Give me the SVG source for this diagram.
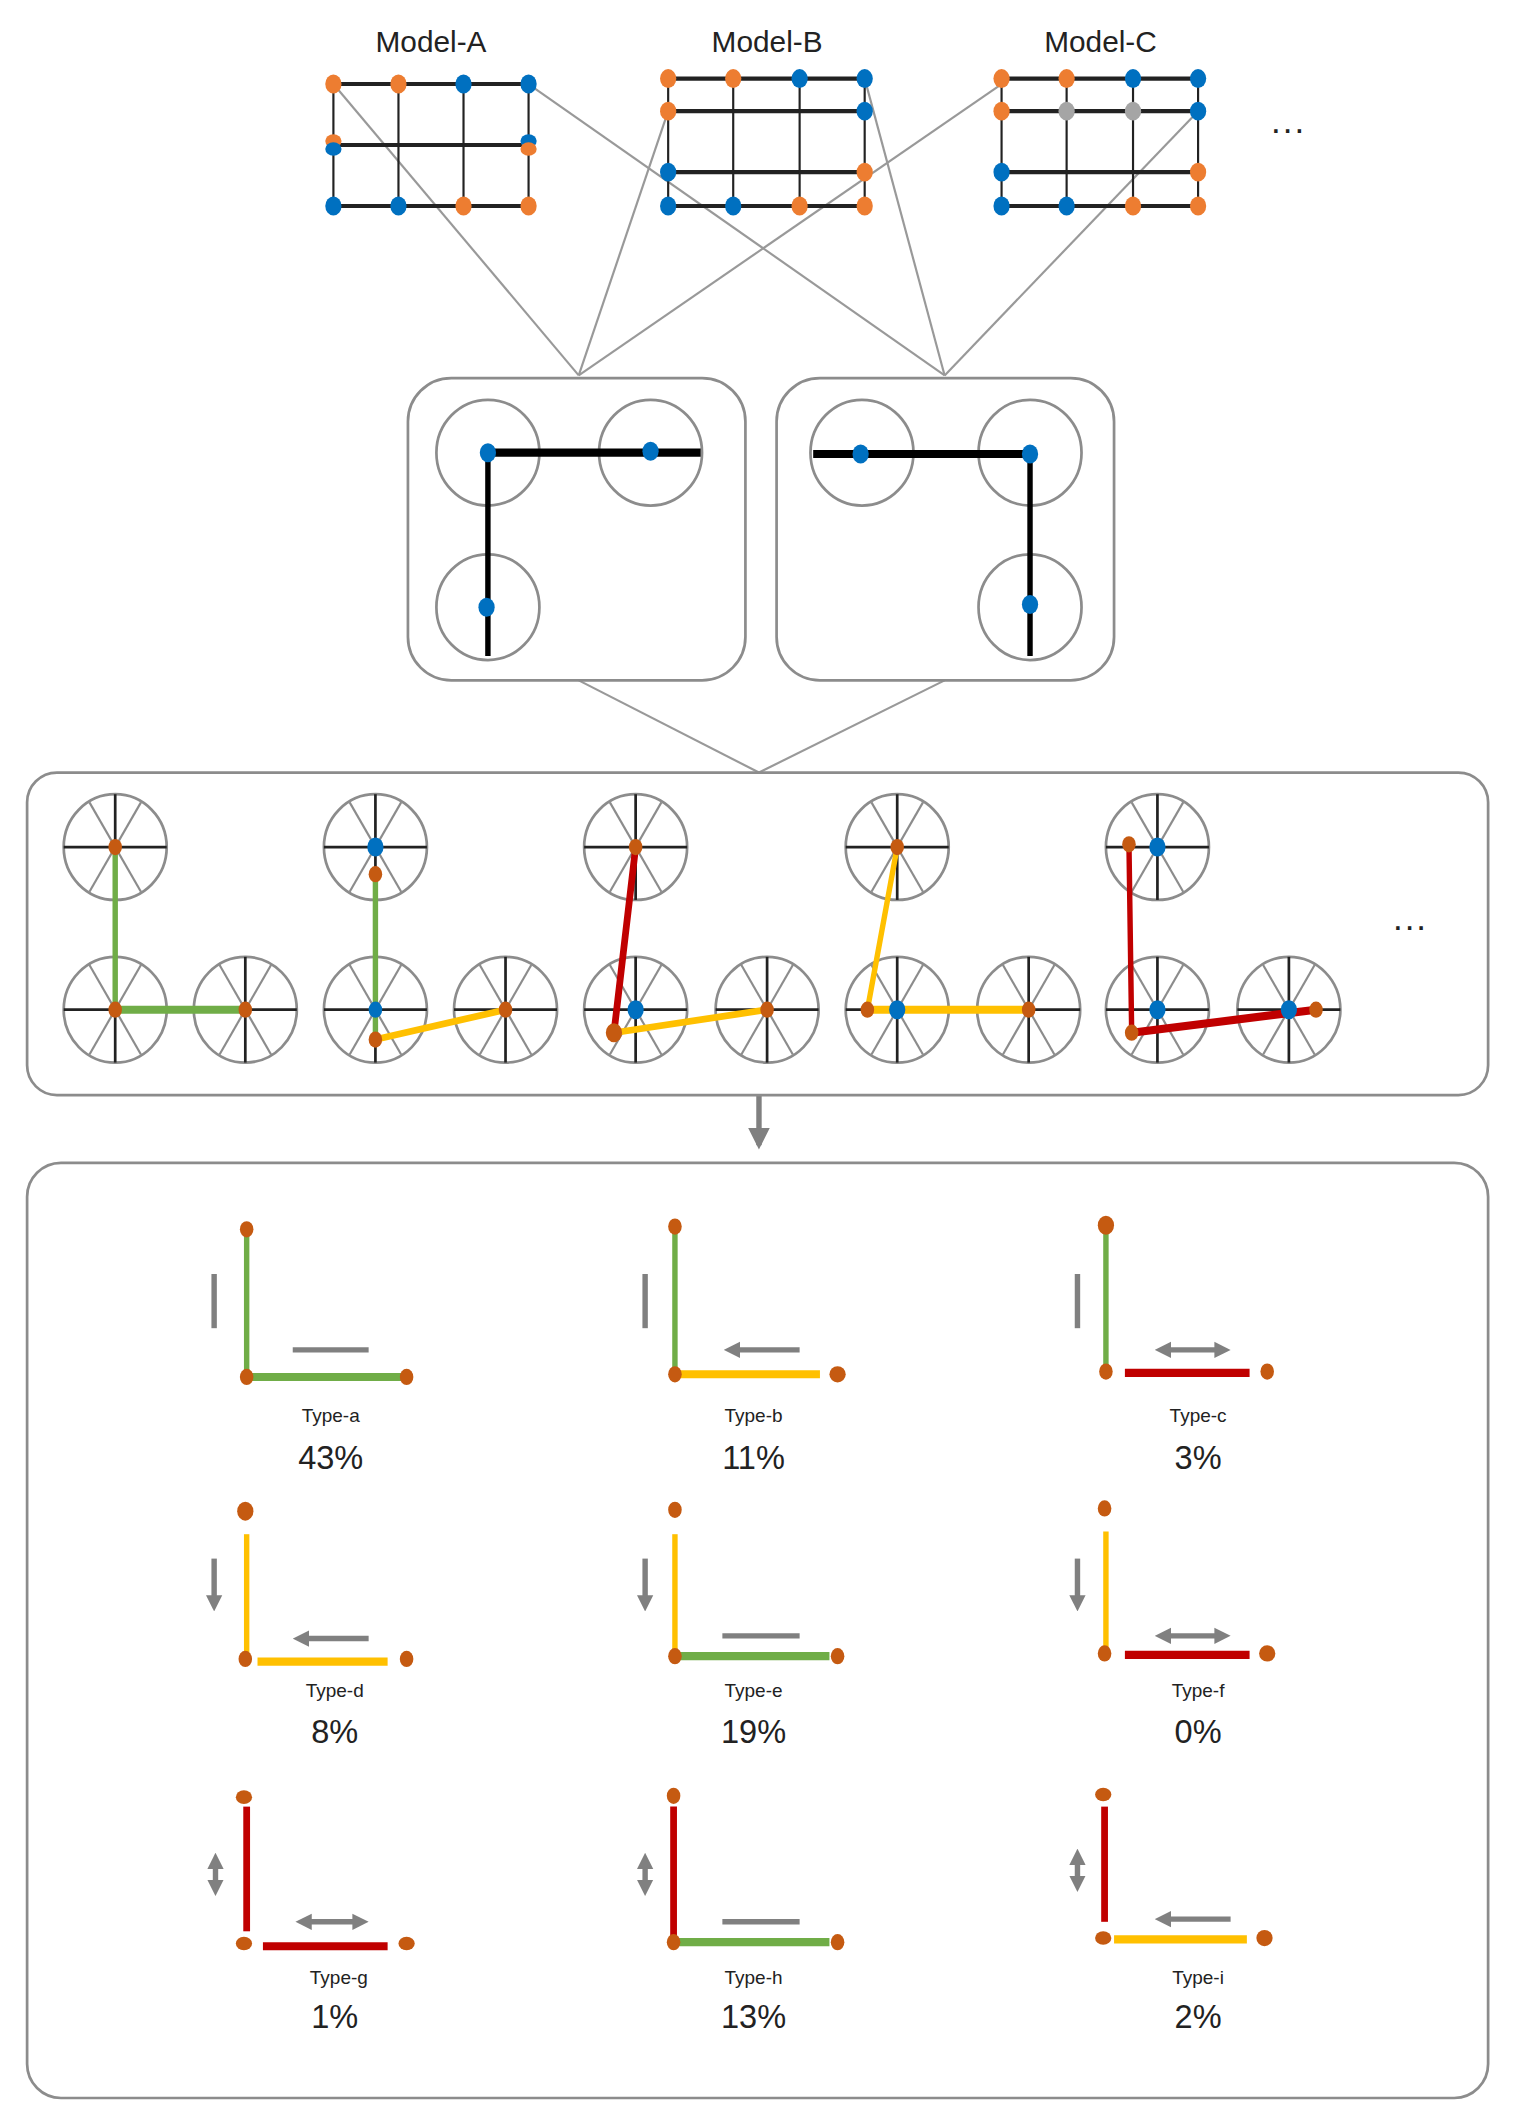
<svg xmlns="http://www.w3.org/2000/svg" width="1522" height="2128" viewBox="0 0 1522 2128">
<style>
.t{font-family:"Liberation Sans",Arial,sans-serif;fill:#222;text-anchor:middle}
.g{stroke:#222;stroke-width:3}
.gt{stroke:#222;stroke-width:1.6}
.cn{stroke:#999;stroke-width:1.6;fill:none}
.box{fill:#fff;stroke:#8c8c8c;stroke-width:2}
.ind{stroke:#808080;stroke-width:4;fill:none}
</style>
<defs>
<g id="wheel">
<ellipse cx="0" cy="0" rx="38" ry="39" fill="none" stroke="#8c8c8c" stroke-width="2"/>
<line x1="-19" y1="-33" x2="19" y2="33" stroke="#8c8c8c" stroke-width="1.6"/>
<line x1="19" y1="-33" x2="-19" y2="33" stroke="#8c8c8c" stroke-width="1.6"/>
<line x1="-38" y1="0" x2="38" y2="0" stroke="#222" stroke-width="2"/>
<line x1="0" y1="-39" x2="0" y2="39" stroke="#222" stroke-width="2"/>
</g>
<marker id="ah" viewBox="0 0 10 10" refX="5" refY="5" markerWidth="3" markerHeight="3.5" orient="auto-start-reverse"><path d="M0,0 L10,5 L0,10 z" fill="#808080"/></marker>
<marker id="ah2" viewBox="0 0 10 10" refX="8" refY="5" markerWidth="4" markerHeight="4" orient="auto"><path d="M0,0 L10,5 L0,10 z" fill="#808080"/></marker>
</defs>
<g transform="scale(1.3553)">
<g id="connectors">
<line class="cn" x1="246" y1="62" x2="427" y2="277"/>
<line class="cn" x1="493" y1="82" x2="427" y2="277"/>
<line class="cn" x1="739" y1="62" x2="427" y2="277"/>
<line class="cn" x1="390" y1="62" x2="697" y2="277"/>
<line class="cn" x1="638" y1="58" x2="697" y2="277"/>
<line class="cn" x1="884" y1="82" x2="697" y2="277"/>
<line class="cn" x1="427" y1="502" x2="560" y2="570"/>
<line class="cn" x1="697" y1="502" x2="560" y2="570"/>
<line x1="560" y1="808" x2="560" y2="845" stroke="#808080" stroke-width="4" marker-end="url(#ah2)"/>
</g>
<g id="modelA">
<text class="t" x="318" y="38" font-size="22">Model-A</text>
<g class="g"><line x1="246" y1="62" x2="390" y2="62"/><line x1="246" y1="107" x2="390" y2="107"/><line x1="246" y1="152" x2="390" y2="152"/></g>
<g class="gt"><line x1="246" y1="62" x2="246" y2="152"/><line x1="294" y1="62" x2="294" y2="152"/><line x1="342" y1="62" x2="342" y2="152"/><line x1="390" y1="62" x2="390" y2="152"/></g>
<g>
<ellipse cx="246" cy="62" rx="6" ry="7" fill="#ED7D31"/><ellipse cx="294" cy="62" rx="6" ry="7" fill="#ED7D31"/><ellipse cx="342" cy="62" rx="6" ry="7" fill="#0070C0"/><ellipse cx="390" cy="62" rx="6" ry="7" fill="#0070C0"/>
<ellipse cx="246" cy="104" rx="6" ry="5" fill="#ED7D31"/><ellipse cx="246" cy="110" rx="6" ry="5" fill="#0070C0"/>
<ellipse cx="390" cy="104" rx="6" ry="5" fill="#0070C0"/><ellipse cx="390" cy="110" rx="6" ry="5" fill="#ED7D31"/>
<ellipse cx="246" cy="152" rx="6" ry="7" fill="#0070C0"/><ellipse cx="294" cy="152" rx="6" ry="7" fill="#0070C0"/><ellipse cx="342" cy="152" rx="6" ry="7" fill="#ED7D31"/><ellipse cx="390" cy="152" rx="6" ry="7" fill="#ED7D31"/>
</g>
</g>
<g id="modelB">
<text class="t" x="566" y="38" font-size="22">Model-B</text>
<g class="g"><line x1="493" y1="58" x2="638" y2="58"/><line x1="493" y1="82" x2="638" y2="82"/><line x1="493" y1="127" x2="638" y2="127"/><line x1="493" y1="152" x2="638" y2="152"/></g>
<g class="gt"><line x1="493" y1="58" x2="493" y2="152"/><line x1="541" y1="58" x2="541" y2="152"/><line x1="590" y1="58" x2="590" y2="152"/><line x1="638" y1="58" x2="638" y2="152"/></g>
<g>
<ellipse cx="493" cy="58" rx="6" ry="7" fill="#ED7D31"/><ellipse cx="541" cy="58" rx="6" ry="7" fill="#ED7D31"/><ellipse cx="590" cy="58" rx="6" ry="7" fill="#0070C0"/><ellipse cx="638" cy="58" rx="6" ry="7" fill="#0070C0"/>
<ellipse cx="493" cy="82" rx="6" ry="7" fill="#ED7D31"/><ellipse cx="638" cy="82" rx="6" ry="7" fill="#0070C0"/>
<ellipse cx="493" cy="127" rx="6" ry="7" fill="#0070C0"/><ellipse cx="638" cy="127" rx="6" ry="7" fill="#ED7D31"/>
<ellipse cx="493" cy="152" rx="6" ry="7" fill="#0070C0"/><ellipse cx="541" cy="152" rx="6" ry="7" fill="#0070C0"/><ellipse cx="590" cy="152" rx="6" ry="7" fill="#ED7D31"/><ellipse cx="638" cy="152" rx="6" ry="7" fill="#ED7D31"/>
</g>
</g>
<g id="modelC">
<text class="t" x="812" y="38" font-size="22">Model-C</text>
<g class="g"><line x1="739" y1="58" x2="884" y2="58"/><line x1="739" y1="82" x2="884" y2="82"/><line x1="739" y1="127" x2="884" y2="127"/><line x1="739" y1="152" x2="884" y2="152"/></g>
<g class="gt"><line x1="739" y1="58" x2="739" y2="152"/><line x1="787" y1="58" x2="787" y2="152"/><line x1="836" y1="58" x2="836" y2="152"/><line x1="884" y1="58" x2="884" y2="152"/></g>
<g>
<ellipse cx="739" cy="58" rx="6" ry="7" fill="#ED7D31"/><ellipse cx="787" cy="58" rx="6" ry="7" fill="#ED7D31"/><ellipse cx="836" cy="58" rx="6" ry="7" fill="#0070C0"/><ellipse cx="884" cy="58" rx="6" ry="7" fill="#0070C0"/>
<ellipse cx="739" cy="82" rx="6" ry="7" fill="#ED7D31"/><ellipse cx="787" cy="82" rx="6" ry="7" fill="#A5A5A5"/><ellipse cx="836" cy="82" rx="6" ry="7" fill="#A5A5A5"/><ellipse cx="884" cy="82" rx="6" ry="7" fill="#0070C0"/>
<ellipse cx="739" cy="127" rx="6" ry="7" fill="#0070C0"/><ellipse cx="884" cy="127" rx="6" ry="7" fill="#ED7D31"/>
<ellipse cx="739" cy="152" rx="6" ry="7" fill="#0070C0"/><ellipse cx="787" cy="152" rx="6" ry="7" fill="#0070C0"/><ellipse cx="836" cy="152" rx="6" ry="7" fill="#ED7D31"/><ellipse cx="884" cy="152" rx="6" ry="7" fill="#ED7D31"/>
</g>
<text class="t" x="950" y="104" font-size="26">···</text>
</g>
<g id="pair1">
<rect class="box" x="301" y="279" width="249" height="223" rx="32"/>
<g fill="none" stroke="#8c8c8c" stroke-width="2"><ellipse cx="360" cy="334" rx="38" ry="39"/><ellipse cx="480" cy="334" rx="38" ry="39"/><ellipse cx="360" cy="448" rx="38" ry="39"/></g>
<line x1="360" y1="334" x2="517" y2="334" stroke="#000" stroke-width="6"/>
<line x1="360" y1="334" x2="360" y2="484" stroke="#000" stroke-width="4"/>
<ellipse cx="360" cy="334" rx="6" ry="7" fill="#0070C0"/><ellipse cx="480" cy="333" rx="6" ry="7" fill="#0070C0"/><ellipse cx="359" cy="448" rx="6" ry="7" fill="#0070C0"/>
</g>
<g id="pair2">
<rect class="box" x="573" y="279" width="249" height="223" rx="32"/>
<g fill="none" stroke="#8c8c8c" stroke-width="2"><ellipse cx="636" cy="334" rx="38" ry="39"/><ellipse cx="760" cy="334" rx="38" ry="39"/><ellipse cx="760" cy="448" rx="38" ry="39"/></g>
<line x1="600" y1="335" x2="760" y2="335" stroke="#000" stroke-width="6"/>
<line x1="760" y1="335" x2="760" y2="484" stroke="#000" stroke-width="4"/>
<ellipse cx="635" cy="335" rx="6" ry="7" fill="#0070C0"/><ellipse cx="760" cy="335" rx="6" ry="7" fill="#0070C0"/><ellipse cx="760" cy="446" rx="6" ry="7" fill="#0070C0"/>
</g>
<g id="variants">
<rect class="box" x="20" y="570" width="1078" height="238" rx="22"/>
<use href="#wheel" x="85" y="625"/><use href="#wheel" x="85" y="745"/><use href="#wheel" x="181" y="745"/>
<use href="#wheel" x="277" y="625"/><use href="#wheel" x="277" y="745"/><use href="#wheel" x="373" y="745"/>
<use href="#wheel" x="469" y="625"/><use href="#wheel" x="469" y="745"/><use href="#wheel" x="566" y="745"/>
<use href="#wheel" x="662" y="625"/><use href="#wheel" x="662" y="745"/><use href="#wheel" x="759" y="745"/>
<use href="#wheel" x="854" y="625"/><use href="#wheel" x="854" y="745"/><use href="#wheel" x="951" y="745"/>
<g stroke-linecap="round">
<line x1="85" y1="625" x2="85" y2="745" stroke="#70AD47" stroke-width="4"/><line x1="85" y1="745" x2="181" y2="745" stroke="#70AD47" stroke-width="6"/>
<line x1="277" y1="645" x2="277" y2="767" stroke="#70AD47" stroke-width="4"/><line x1="277" y1="767" x2="373" y2="745" stroke="#FFC000" stroke-width="5"/>
<line x1="469" y1="625" x2="453" y2="762" stroke="#C00000" stroke-width="5"/><line x1="453" y1="762" x2="566" y2="745" stroke="#FFC000" stroke-width="5"/>
<line x1="662" y1="625" x2="640" y2="745" stroke="#FFC000" stroke-width="4"/><line x1="640" y1="745" x2="759" y2="745" stroke="#FFC000" stroke-width="6"/>
<line x1="833" y1="623" x2="835" y2="762" stroke="#C00000" stroke-width="4"/><line x1="835" y1="762" x2="971" y2="745" stroke="#C00000" stroke-width="6"/>
</g>
<g fill="#C55A11">
<ellipse cx="85" cy="625" rx="5" ry="6"/><ellipse cx="85" cy="745" rx="5" ry="6"/><ellipse cx="181" cy="745" rx="5" ry="6"/>
<ellipse cx="277" cy="645" rx="5" ry="6"/><ellipse cx="277" cy="767" rx="5" ry="6"/><ellipse cx="373" cy="745" rx="5" ry="6"/>
<ellipse cx="469" cy="625" rx="5" ry="6"/><ellipse cx="453" cy="762" rx="6" ry="7"/><ellipse cx="566" cy="745" rx="5" ry="6"/>
<ellipse cx="662" cy="625" rx="5" ry="6"/><ellipse cx="640" cy="745" rx="5" ry="6"/><ellipse cx="759" cy="745" rx="5" ry="6"/>
<ellipse cx="833" cy="623" rx="5" ry="6"/><ellipse cx="835" cy="762" rx="5" ry="6"/><ellipse cx="971" cy="745" rx="5" ry="6"/>
</g>
<g fill="#0070C0">
<ellipse cx="277" cy="625" rx="6" ry="7"/><ellipse cx="277" cy="745" rx="5" ry="6"/>
<ellipse cx="469" cy="745" rx="6" ry="7"/><ellipse cx="662" cy="745" rx="6" ry="7"/>
<ellipse cx="854" cy="625" rx="6" ry="7"/><ellipse cx="854" cy="745" rx="6" ry="7"/><ellipse cx="951" cy="745" rx="6" ry="7"/>
</g>
<text class="t" x="1040" y="692" font-size="26">···</text>
</g>
<g id="types">
<rect class="box" x="20" y="858" width="1078" height="690" rx="25"/>
<g id="type-a">
<line x1="182" y1="907" x2="182" y2="1016" stroke="#70AD47" stroke-width="4"/><line x1="182" y1="1016" x2="300" y2="1016" stroke="#70AD47" stroke-width="6"/>
<line class="ind" x1="158" y1="940" x2="158" y2="980"/><line class="ind" x1="216" y1="996" x2="272" y2="996"/>
<g fill="#C55A11"><ellipse cx="182" cy="907" rx="5" ry="6"/><ellipse cx="182" cy="1016" rx="5" ry="6"/><ellipse cx="300" cy="1016" rx="5" ry="6"/></g>
<text class="t" x="244" y="1049" font-size="14">Type-a</text><text class="t" x="244" y="1084" font-size="24">43%</text>
</g>
<g id="type-b">
<line x1="498" y1="905" x2="498" y2="1016" stroke="#70AD47" stroke-width="4"/><line x1="498" y1="1014" x2="605" y2="1014" stroke="#FFC000" stroke-width="6"/>
<line class="ind" x1="476" y1="940" x2="476" y2="980"/><line class="ind" x1="590" y1="996" x2="540" y2="996" marker-end="url(#ah)"/>
<g fill="#C55A11"><ellipse cx="498" cy="905" rx="5" ry="6"/><ellipse cx="498" cy="1014" rx="5" ry="6"/><ellipse cx="618" cy="1014" rx="6" ry="6"/></g>
<text class="t" x="556" y="1049" font-size="14">Type-b</text><text class="t" x="556" y="1084" font-size="24">11%</text>
</g>
<g id="type-c">
<line x1="816" y1="905" x2="816" y2="1013" stroke="#70AD47" stroke-width="4"/><line x1="830" y1="1013" x2="922" y2="1013" stroke="#C00000" stroke-width="6"/>
<line class="ind" x1="795" y1="940" x2="795" y2="980"/><line class="ind" x1="858" y1="996" x2="902" y2="996" marker-start="url(#ah)" marker-end="url(#ah)"/>
<g fill="#C55A11"><ellipse cx="816" cy="904" rx="6" ry="7"/><ellipse cx="816" cy="1012" rx="5" ry="6"/><ellipse cx="935" cy="1012" rx="5" ry="6"/></g>
<text class="t" x="884" y="1049" font-size="14">Type-c</text><text class="t" x="884" y="1084" font-size="24">3%</text>
</g>
<g id="type-d">
<line x1="182" y1="1132" x2="182" y2="1224" stroke="#FFC000" stroke-width="4"/><line x1="190" y1="1226" x2="286" y2="1226" stroke="#FFC000" stroke-width="6"/>
<line class="ind" x1="158" y1="1150" x2="158" y2="1183" marker-end="url(#ah)"/><line class="ind" x1="272" y1="1209" x2="222" y2="1209" marker-end="url(#ah)"/>
<g fill="#C55A11"><ellipse cx="181" cy="1115" rx="6" ry="7"/><ellipse cx="181" cy="1224" rx="5" ry="6"/><ellipse cx="300" cy="1224" rx="5" ry="6"/></g>
<text class="t" x="247" y="1252" font-size="14">Type-d</text><text class="t" x="247" y="1286" font-size="24">8%</text>
</g>
<g id="type-e">
<line x1="498" y1="1132" x2="498" y2="1222" stroke="#FFC000" stroke-width="4"/><line x1="498" y1="1222" x2="612" y2="1222" stroke="#70AD47" stroke-width="6"/>
<line class="ind" x1="476" y1="1150" x2="476" y2="1183" marker-end="url(#ah)"/><line class="ind" x1="533" y1="1207" x2="590" y2="1207"/>
<g fill="#C55A11"><ellipse cx="498" cy="1114" rx="5" ry="6"/><ellipse cx="498" cy="1222" rx="5" ry="6"/><ellipse cx="618" cy="1222" rx="5" ry="6"/></g>
<text class="t" x="556" y="1252" font-size="14">Type-e</text><text class="t" x="556" y="1286" font-size="24">19%</text>
</g>
<g id="type-f">
<line x1="816" y1="1130" x2="816" y2="1220" stroke="#FFC000" stroke-width="4"/><line x1="830" y1="1221" x2="922" y2="1221" stroke="#C00000" stroke-width="6"/>
<line class="ind" x1="795" y1="1150" x2="795" y2="1183" marker-end="url(#ah)"/><line class="ind" x1="858" y1="1207" x2="902" y2="1207" marker-start="url(#ah)" marker-end="url(#ah)"/>
<g fill="#C55A11"><ellipse cx="815" cy="1113" rx="5" ry="6"/><ellipse cx="815" cy="1220" rx="5" ry="6"/><ellipse cx="935" cy="1220" rx="6" ry="6"/></g>
<text class="t" x="884" y="1252" font-size="14">Type-f</text><text class="t" x="884" y="1286" font-size="24">0%</text>
</g>
<g id="type-g">
<line x1="182" y1="1333" x2="182" y2="1425" stroke="#C00000" stroke-width="5"/><line x1="194" y1="1436" x2="286" y2="1436" stroke="#C00000" stroke-width="6"/>
<line class="ind" x1="159" y1="1373" x2="159" y2="1393" marker-start="url(#ah)" marker-end="url(#ah)"/><line class="ind" x1="224" y1="1418" x2="266" y2="1418" marker-start="url(#ah)" marker-end="url(#ah)"/>
<g fill="#C55A11"><ellipse cx="180" cy="1326" rx="6" ry="5"/><ellipse cx="180" cy="1434" rx="6" ry="5"/><ellipse cx="300" cy="1434" rx="6" ry="5"/></g>
<text class="t" x="250" y="1464" font-size="14">Type-g</text><text class="t" x="247" y="1496" font-size="24">1%</text>
</g>
<g id="type-h">
<line x1="497" y1="1333" x2="497" y2="1430" stroke="#C00000" stroke-width="5"/><line x1="497" y1="1433" x2="612" y2="1433" stroke="#70AD47" stroke-width="6"/>
<line class="ind" x1="476" y1="1373" x2="476" y2="1393" marker-start="url(#ah)" marker-end="url(#ah)"/><line class="ind" x1="533" y1="1418" x2="590" y2="1418"/>
<g fill="#C55A11"><ellipse cx="497" cy="1325" rx="5" ry="6"/><ellipse cx="497" cy="1433" rx="5" ry="6"/><ellipse cx="618" cy="1433" rx="5" ry="6"/></g>
<text class="t" x="556" y="1464" font-size="14">Type-h</text><text class="t" x="556" y="1496" font-size="24">13%</text>
</g>
<g id="type-i">
<line x1="815" y1="1333" x2="815" y2="1418" stroke="#C00000" stroke-width="5"/><line x1="822" y1="1431" x2="920" y2="1431" stroke="#FFC000" stroke-width="6"/>
<line class="ind" x1="795" y1="1370" x2="795" y2="1390" marker-start="url(#ah)" marker-end="url(#ah)"/><line class="ind" x1="908" y1="1416" x2="858" y2="1416" marker-end="url(#ah)"/>
<g fill="#C55A11"><ellipse cx="814" cy="1324" rx="6" ry="5"/><ellipse cx="814" cy="1430" rx="6" ry="5"/><ellipse cx="933" cy="1430" rx="6" ry="6"/></g>
<text class="t" x="884" y="1464" font-size="14">Type-i</text><text class="t" x="884" y="1496" font-size="24">2%</text>
</g>
</g>
</g>
</svg>
